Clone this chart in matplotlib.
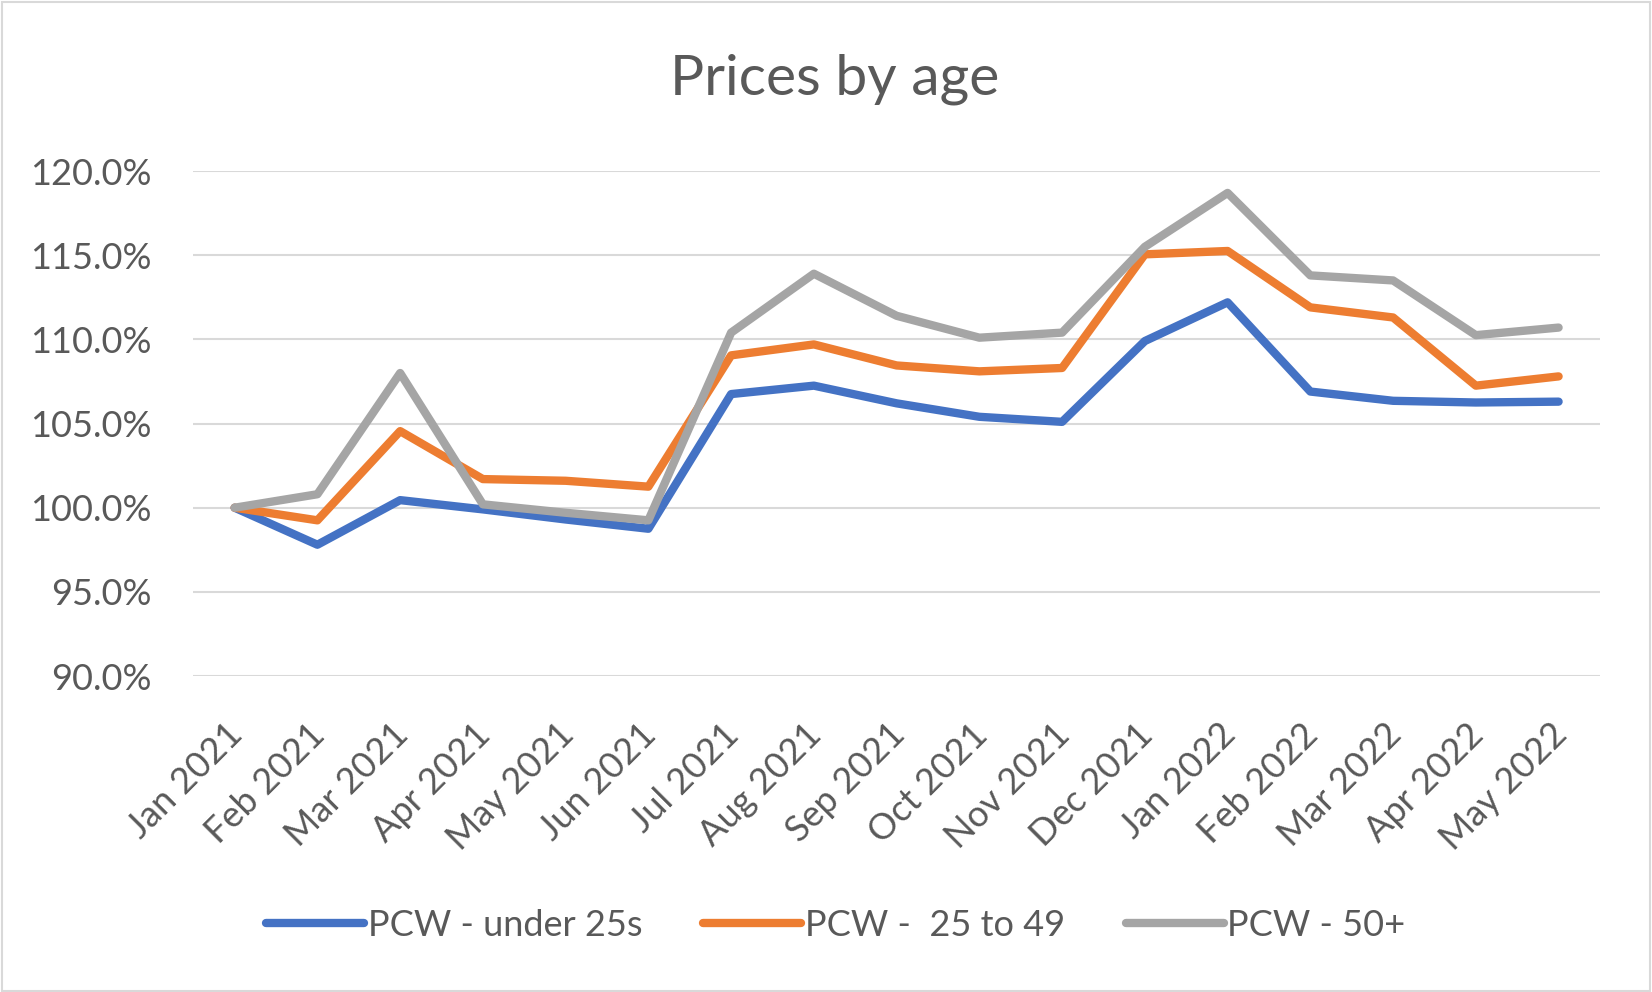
import matplotlib.pyplot as plt
import matplotlib.transforms as mtransforms
from matplotlib.ticker import FuncFormatter

# data (index, Jan 2021 = 100%)
months = ['Jan 2021', 'Feb 2021', 'Mar 2021', 'Apr 2021', 'May 2021', 'Jun 2021',
          'Jul 2021', 'Aug 2021', 'Sep 2021', 'Oct 2021', 'Nov 2021', 'Dec 2021',
          'Jan 2022', 'Feb 2022', 'Mar 2022', 'Apr 2022', 'May 2022']
under25 = [100.0, 97.8, 100.45, 99.9, 99.3, 98.75, 106.75, 107.25, 106.2, 105.4,
           105.1, 109.9, 112.2, 106.9, 106.35, 106.25, 106.3]
age25_49 = [100.0, 99.25, 104.55, 101.7, 101.6, 101.25, 109.05, 109.7, 108.45, 108.1,
            108.3, 115.05, 115.25, 111.9, 111.3, 107.25, 107.8]
age50plus = [100.0, 100.8, 108.0, 100.2, 99.7, 99.25, 110.4, 113.9, 111.4, 110.1,
             110.4, 115.5, 118.7, 113.8, 113.5, 110.25, 110.7]
labels = ['PCW - under 25s', 'PCW -  25 to 49', 'PCW - 50+']
colours = ['#4472C4', '#ED7D31', '#A5A5A5']

plt.rcParams['font.family'] = ['Lato', 'DejaVu Sans']
txt = '#595959'

fig = plt.figure(figsize=(16.52, 9.92), dpi=100)
ax = fig.add_axes([0.117, 0.3185, 0.8515, 0.5091])

x = range(len(months))
for vals, lab, col in zip([under25, age25_49, age50plus], labels, colours):
    ax.plot(x, vals, color=col, lw=6, label=lab, solid_capstyle='round', solid_joinstyle='round')

ax.set_ylim(90, 120)
ax.set_yticks(range(90, 121, 5))
ax.yaxis.set_major_formatter(FuncFormatter(lambda v, p: f'{v:.1f}%'))
ax.set_xlim(-0.5, len(months) - 0.5)
ax.set_xticks(list(x))
ax.set_xticklabels(months, rotation=45, ha='right', rotation_mode='anchor')
ax.grid(axis='y', color='#D9D9D9', lw=1.5)
ax.set_axisbelow(True)
for s in ax.spines.values():
    s.set_visible(False)
ax.tick_params(length=0, labelsize=26, colors=txt)
ax.tick_params(axis='x', pad=30)
ax.tick_params(axis='y', pad=30)

# nudge the slanted month labels a little to the left
shift = mtransforms.ScaledTranslation(-9 / 100, 0, fig.dpi_scale_trans)
for lbl in ax.get_xticklabels():
    lbl.set_transform(lbl.get_transform() + shift)

fig.text(0.505, 0.92, 'Prices by age', ha='center', va='center', fontsize=41, color=txt)

leg = fig.legend(loc='center', bbox_to_anchor=(0.506, 0.067), ncol=3, frameon=False,
                 fontsize=26, handlelength=2.7, columnspacing=1.7, handletextpad=0.1)
for t in leg.get_texts():
    t.set_color(txt)

# light frame around the chart
fig.patches.append(plt.Rectangle((0.001, 0.001), 0.998, 0.997, transform=fig.transFigure,
                                 fill=False, edgecolor='#D9D9D9', lw=1.5))

fig.savefig('out.png', dpi=100)
